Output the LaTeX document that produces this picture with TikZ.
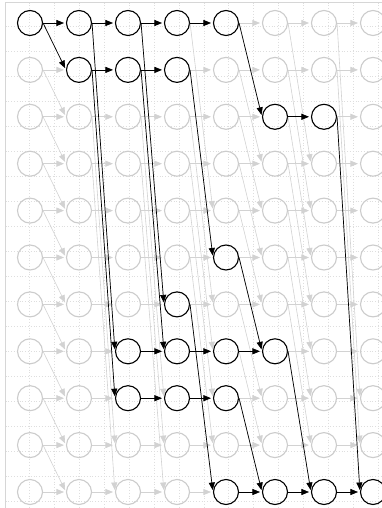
\documentclass[tikz,border=0pt]{standalone}
\usetikzlibrary{arrows.meta}
\definecolor{lg}{HTML}{CCCCCC}
\definecolor{eg}{HTML}{D2D2D2}
\definecolor{gridc}{HTML}{DEDEDE}
\definecolor{framec}{HTML}{D6D6D6}
\tikzset{
  b-0-0/.style={draw=black}, b-0-1/.style={draw=black}, b-0-2/.style={draw=black},
  b-0-3/.style={draw=black}, b-0-4/.style={draw=black},
  b-1-1/.style={draw=black}, b-1-2/.style={draw=black}, b-1-3/.style={draw=black},
  b-2-5/.style={draw=black}, b-2-6/.style={draw=black},
  b-5-4/.style={draw=black}, b-6-3/.style={draw=black},
  b-7-2/.style={draw=black}, b-7-3/.style={draw=black}, b-7-4/.style={draw=black}, b-7-5/.style={draw=black},
  b-8-2/.style={draw=black}, b-8-3/.style={draw=black}, b-8-4/.style={draw=black},
  b-10-4/.style={draw=black}, b-10-5/.style={draw=black}, b-10-6/.style={draw=black}, b-10-7/.style={draw=black}
}
\begin{document}
\begin{tikzpicture}[x=1pt,y=-1pt,
  state/.style={circle, draw=lg, line width=1.1pt, minimum size=25pt, inner sep=0pt},
  gedge/.style={draw=eg, line width=0.6pt, -{Triangle[length=7.5pt,width=6pt]}, shorten >=2pt},
  bedge/.style={draw=black, line width=0.7pt, -{Triangle[length=7.5pt,width=6pt]}, shorten >=2pt},
  gridline/.style={draw=gridc, line width=0.6pt, dash pattern=on 0.8pt off 2pt},
  framel/.style={draw=framec, line width=0.9pt}
]
\clip (0,0) rectangle (382,508);
\fill[white] (0,0) rectangle (382,508);
% dotted grid
\foreach \i in {0,...,14} \draw[gridline] ({29.5+24.9*\i},2.7) -- ++(0,520);
\foreach \j in {0,...,20} \draw[gridline] (5.5,{26.5+25*\j}) -- ++(400,0);
% frame
\draw[framel] (5.5,530) |- (400,2.7);
% nodes
\foreach \r in {0,...,10}
  \foreach \c in {0,...,7}
    \node[state, b-\r-\c/.try] (n-\r-\c) at ({30+49*\c},{23+46.9*\r}) {};
% grey edges: horizontal
\foreach \c in {0,...,6}{
  \pgfmathtruncatemacro\d{\c+1}
  \foreach \r in {0,...,10}
    \draw[gedge] (n-\r-\c.east) -- (n-\r-\d.west);
}
% grey edges: weighted
\foreach \c/\w in {0/1,1/7,2/6,3/4,4/2,5/3,6/8}{
  \pgfmathtruncatemacro\d{\c+1}
  \pgfmathtruncatemacro\rmax{10-\w}
  \foreach \r in {0,...,\rmax}{
    \pgfmathtruncatemacro\t{\r+\w}
    \draw[gedge] (n-\r-\c.east) -- (n-\t-\d.west);
  }
}
% black edges
\foreach \a/\b in {0-0/0-1,0-1/0-2,0-2/0-3,0-3/0-4,1-1/1-2,1-2/1-3,2-5/2-6,
  7-2/7-3,7-3/7-4,7-4/7-5,8-2/8-3,8-3/8-4,10-4/10-5,10-5/10-6,10-6/10-7,
  0-0/1-1,0-1/7-2,1-1/8-2,0-2/6-3,1-2/7-3,1-3/5-4,6-3/10-4,
  0-4/2-5,5-4/7-5,8-4/10-5,7-5/10-6,2-6/10-7}
  \draw[bedge] (n-\a.east) -- (n-\b.west);
\end{tikzpicture}
\end{document}
